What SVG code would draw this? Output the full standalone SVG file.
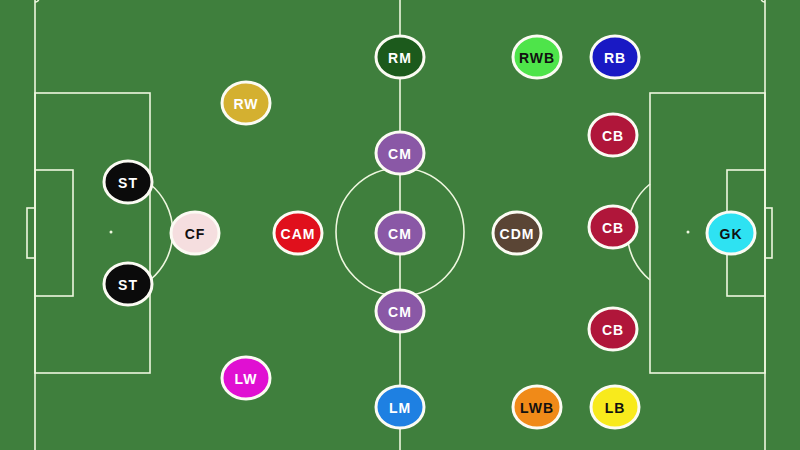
<svg xmlns="http://www.w3.org/2000/svg" width="800" height="450" viewBox="0 0 800 450">
<style>
.ln{fill:none;stroke:#eef7df;stroke-width:1.6}
.p{stroke:#fbfbf3;stroke-width:3}
.t{font-family:"Liberation Sans",Arial,sans-serif;font-weight:bold;font-size:14px;letter-spacing:1px;text-anchor:middle;dominant-baseline:central}
.w{fill:#ffffff}.k{fill:#111111}
</style>
<rect width="800" height="450" fill="#3f7f3d"/>
<g id="pitch" class="ln">
<line x1="35" y1="0" x2="35" y2="450"/>
<line x1="765" y1="0" x2="765" y2="450"/>
<line x1="400" y1="0" x2="400" y2="450"/>
<path d="M35,2 A4,4 0 0 0 39,-2"/>
<path d="M765,2 A4,4 0 0 1 761,-2"/>
<circle cx="400" cy="232" r="64"/>
<rect x="35" y="93" width="115" height="280"/>
<rect x="35" y="170" width="38" height="126"/>
<rect x="27" y="208" width="8" height="50"/>
<path d="M150,184 A62,62 0 0 1 150,280"/>
<rect x="650" y="93" width="115" height="280"/>
<rect x="727" y="170" width="38" height="126"/>
<rect x="765" y="208" width="7" height="50"/>
<path d="M650,184 A62,62 0 0 0 650,280"/>
</g>
<circle cx="111" cy="232" r="1.5" fill="#eef7df"/>
<circle cx="688" cy="232" r="1.5" fill="#eef7df"/>
<g id="RM"><ellipse class="p" cx="400" cy="57" rx="24" ry="21" fill="#1c5a1c"/><text class="t w" x="400" y="58">RM</text></g>
<g id="RWB"><ellipse class="p" cx="537" cy="57" rx="24" ry="21" fill="#4ee44a"/><text class="t k" x="537" y="58">RWB</text></g>
<g id="RB"><ellipse class="p" cx="615" cy="57" rx="24" ry="21" fill="#1919c4"/><text class="t w" x="615" y="58">RB</text></g>
<g id="RW"><ellipse class="p" cx="246" cy="103" rx="24" ry="21" fill="#d4b030"/><text class="t w" x="246" y="104">RW</text></g>
<g id="CB1"><ellipse class="p" cx="613" cy="135" rx="24" ry="21" fill="#b0163a"/><text class="t w" x="613" y="136">CB</text></g>
<g id="CM1"><ellipse class="p" cx="400" cy="153" rx="24" ry="21" fill="#8a58a6"/><text class="t w" x="400" y="154">CM</text></g>
<g id="ST1"><ellipse class="p" cx="128" cy="182" rx="24" ry="21" fill="#0b0b0b"/><text class="t w" x="128" y="183">ST</text></g>
<g id="CF"><ellipse class="p" cx="195" cy="233" rx="24" ry="21" fill="#f5dedf"/><text class="t k" x="195" y="234">CF</text></g>
<g id="CAM"><ellipse class="p" cx="298" cy="233" rx="24" ry="21" fill="#e0101c"/><text class="t w" x="298" y="234">CAM</text></g>
<g id="CM2"><ellipse class="p" cx="400" cy="233" rx="24" ry="21" fill="#8a58a6"/><text class="t w" x="400" y="234">CM</text></g>
<g id="CDM"><ellipse class="p" cx="517" cy="233" rx="24" ry="21" fill="#5a4535"/><text class="t w" x="517" y="234">CDM</text></g>
<g id="CB2"><ellipse class="p" cx="613" cy="227" rx="24" ry="21" fill="#b0163a"/><text class="t w" x="613" y="228">CB</text></g>
<g id="GK"><ellipse class="p" cx="731" cy="233" rx="24" ry="21" fill="#2ee2f2"/><text class="t k" x="731" y="234">GK</text></g>
<g id="ST2"><ellipse class="p" cx="128" cy="284" rx="24" ry="21" fill="#0b0b0b"/><text class="t w" x="128" y="285">ST</text></g>
<g id="CM3"><ellipse class="p" cx="400" cy="311" rx="24" ry="21" fill="#8a58a6"/><text class="t w" x="400" y="312">CM</text></g>
<g id="CB3"><ellipse class="p" cx="613" cy="329" rx="24" ry="21" fill="#b0163a"/><text class="t w" x="613" y="330">CB</text></g>
<g id="LW"><ellipse class="p" cx="246" cy="378" rx="24" ry="21" fill="#e010d2"/><text class="t w" x="246" y="379">LW</text></g>
<g id="LM"><ellipse class="p" cx="400" cy="407" rx="24" ry="21" fill="#1e80e2"/><text class="t w" x="400" y="408">LM</text></g>
<g id="LWB"><ellipse class="p" cx="537" cy="407" rx="24" ry="21" fill="#f08a18"/><text class="t k" x="537" y="408">LWB</text></g>
<g id="LB"><ellipse class="p" cx="615" cy="407" rx="24" ry="21" fill="#f8ea1c"/><text class="t k" x="615" y="408">LB</text></g>
</svg>
